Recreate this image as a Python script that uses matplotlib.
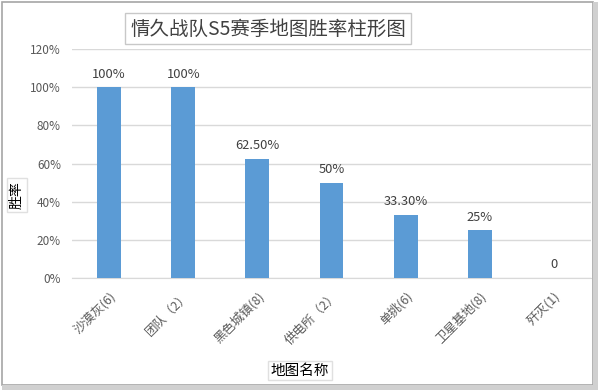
import matplotlib
matplotlib.use("Agg")
import matplotlib.pyplot as plt
from matplotlib.patches import Rectangle

plt.rcParams['font.family'] = ['Noto Sans CJK SC', 'DejaVu Sans']

maps = ["沙漠灰(6)", "团队（2）", "黑色城镇(8)", "供电所（2）", "单挑(6)", "卫星基地(8)", "歼灭(1)"]
win_rate = [100, 100, 62.5, 50, 33.3, 25, 0]
value_labels = ["100%", "100%", "62.50%", "50%", "33.30%", "25%", "0"]
y_ticks = [0, 20, 40, 60, 80, 100, 120]

fig = plt.figure(figsize=(6, 3.9), dpi=100)
fig.patch.set_facecolor("white")

# 外框和阴影
fig.add_artist(Rectangle((0.004, 0.012), 0.984, 0.982, transform=fig.transFigure,
                         fill=False, edgecolor="#a6a6a6", linewidth=1.2))
fig.add_artist(Rectangle((0.988, 0.012), 0.008, 0.982, transform=fig.transFigure,
                         facecolor="#d0d0d0", edgecolor="none"))
fig.add_artist(Rectangle((0.004, 0.0), 0.992, 0.012, transform=fig.transFigure,
                         facecolor="#d0d0d0", edgecolor="none"))

ax = fig.add_axes([0.12, 0.287, 0.865, 0.587])
x = range(len(maps))
ax.bar(x, win_rate, width=0.32, color="#5b9bd5", zorder=3)

for i, (v, lab) in enumerate(zip(win_rate, value_labels)):
    ax.text(i, v + 3.5, lab, ha="center", va="bottom", fontsize=9.3, color="#404040")

ax.set_ylim(0, 120)
ax.set_xlim(-0.5, len(maps) - 0.5)
ax.set_yticks(y_ticks)
ax.set_yticklabels([f"{t}%" for t in y_ticks], fontsize=8.5, color="#595959")
ax.set_xticks(list(x))
ax.set_xticklabels(maps, rotation=45, ha="right", rotation_mode="anchor",
                   fontsize=9, color="#595959")
ax.tick_params(axis="both", length=0, pad=8)
ax.grid(axis="y", color="#d9d9d9", linewidth=1, zorder=0)
for s in ax.spines.values():
    s.set_visible(False)
ax.spines["bottom"].set_visible(True)
ax.spines["bottom"].set_color("#d9d9d9")

fig.text(0.447, 0.926, "情久战队S5赛季地图胜率柱形图", ha="center", va="center",
         fontsize=14, color="#404040",
         bbox=dict(boxstyle="square,pad=0.25", facecolor="white", edgecolor="#c8c8c8"))
fig.text(0.028, 0.5, "胜率", rotation=90, ha="center", va="center", fontsize=10, color="black",
         bbox=dict(boxstyle="square,pad=0.2", facecolor="white", edgecolor="#e0e0e0"))
fig.text(0.5, 0.05, "地图名称", ha="center", va="center", fontsize=10.5, color="black",
         bbox=dict(boxstyle="square,pad=0.2", facecolor="white", edgecolor="#e0e0e0"))

fig.savefig("out.png", dpi=100)
